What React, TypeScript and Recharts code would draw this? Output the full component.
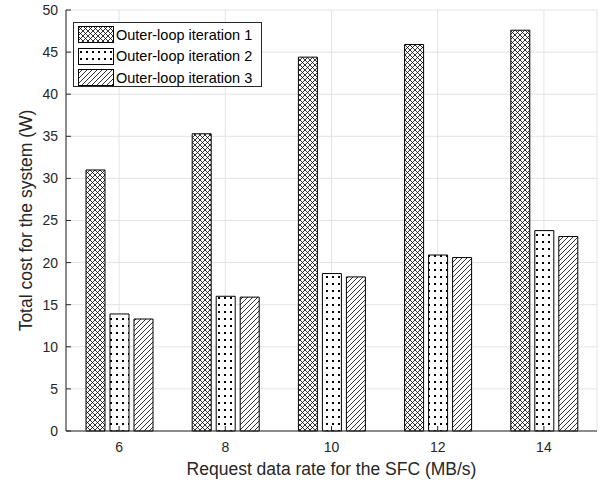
import React from "react";
import { BarChart, Bar, XAxis, YAxis, CartesianGrid } from "recharts";

const rates = ["6", "8", "10", "12", "14"];
const iter1 = [31.0, 35.3, 44.4, 45.9, 47.6];
const iter2 = [13.9, 16.0, 18.7, 20.9, 23.8];
const iter3 = [13.3, 15.9, 18.3, 20.6, 23.1];
const yTicks = [0, 5, 10, 15, 20, 25, 30, 35, 40, 45, 50];
const seriesNames = ["Outer-loop iteration 1", "Outer-loop iteration 2", "Outer-loop iteration 3"];
const patternIds = ["pat-cross", "pat-dots", "pat-diag"];
const seriesKeys = ["it1", "it2", "it3"];

const data = rates.map((r, i) => ({ rate: r, it1: iter1[i], it2: iter2[i], it3: iter3[i] }));

const INK = "#262626";
const FONT = "Arial, 'Liberation Sans', Helvetica, sans-serif";

function Patterns({ suffix = "" }: { suffix?: string }) {
  return (
    <defs>
      <pattern id={`pat-cross${suffix}`} width="5" height="5" patternUnits="userSpaceOnUse">
        <rect width="5" height="5" fill="#fff" />
        <path d="M0,0 L5,5 M5,0 L0,5" stroke="#000" strokeWidth="0.8" />
      </pattern>
      <pattern id={`pat-dots${suffix}`} width="6" height="7" patternUnits="userSpaceOnUse">
        <rect width="6" height="7" fill="#fff" />
        <rect x="2" y="3" width="2" height="2" fill="#000" />
      </pattern>
      <pattern id={`pat-diag${suffix}`} width="5" height="5" patternUnits="userSpaceOnUse">
        <rect width="5" height="5" fill="#fff" />
        <path d="M-1,1 L1,-1 M0,5 L5,0 M4,6 L6,4" stroke="#000" strokeWidth="0.8" />
      </pattern>
    </defs>
  );
}

const noTick = () => <g />;

function LegendBox() {
  return (
    <div
      style={{
        position: "absolute",
        left: 73,
        top: 22,
        width: 187,
        height: 63,
        border: `1px solid ${INK}`,
        background: "#fff",
        fontFamily: FONT,
        fontSize: 14.5,
        color: "#000",
        boxSizing: "content-box",
      }}
    >
      {seriesNames.map((name, i) => (
        <div
          key={name}
          style={{ position: "absolute", left: 4, top: 3 + i * 21.5, height: 17, display: "flex", alignItems: "center" }}
        >
          <svg width={36} height={17} style={{ display: "block" }}>
            <Patterns suffix="-lg" />
            <rect x={0.5} y={0.5} width={35} height={16} fill={`url(#${patternIds[i]}-lg)`} stroke="#000" strokeWidth={1} />
          </svg>
          <span style={{ marginLeft: 2, whiteSpace: "nowrap" }}>{name}</span>
        </div>
      ))}
    </div>
  );
}

export default function App() {
  return (
    <div style={{ position: "absolute", left: 0, top: 0, width: 603, height: 485, background: "#fff" }}>
      <BarChart
        width={603}
        height={485}
        data={data}
        margin={{ top: 10, right: 6, bottom: 0, left: 0 }}
        barSize={19}
        barGap={5}
        style={{ fontFamily: FONT }}
      >
        <Patterns />
        <CartesianGrid stroke="#e3e3e3" strokeWidth={1} />
        <XAxis
          dataKey="rate"
          height={54}
          stroke={INK}
          tickSize={-5}
          tickMargin={16}
          tick={{ fill: INK, fontSize: 14 }}
          label={{ value: "Request data rate for the SFC (MB/s)", position: "insideBottom", offset: 10, fill: INK, fontSize: 17.5 }}
        />
        <XAxis xAxisId="top" dataKey="rate" orientation="top" height={0} stroke={INK} tickSize={-5} tick={noTick} />
        <YAxis
          domain={[0, 50]}
          ticks={yTicks}
          width={66}
          stroke={INK}
          tickSize={-5}
          tickMargin={13}
          tick={{ fill: INK, fontSize: 14 }}
          label={{
            value: "Total cost for the system (W)",
            angle: -90,
            position: "insideLeft",
            offset: 0,
            dx: 26,
            fill: INK,
            fontSize: 17.5,
            style: { textAnchor: "middle" },
          }}
        />
        <YAxis yAxisId="right" orientation="right" domain={[0, 50]} ticks={yTicks} width={0} stroke={INK} tickSize={-5} tick={noTick} />
        {seriesKeys.map((k, i) => (
          <Bar
            key={k}
            dataKey={k}
            name={seriesNames[i]}
            fill={`url(#${patternIds[i]})`}
            stroke="#000"
            strokeWidth={1}
            isAnimationActive={false}
          />
        ))}
      </BarChart>
      <LegendBox />
    </div>
  );
}
